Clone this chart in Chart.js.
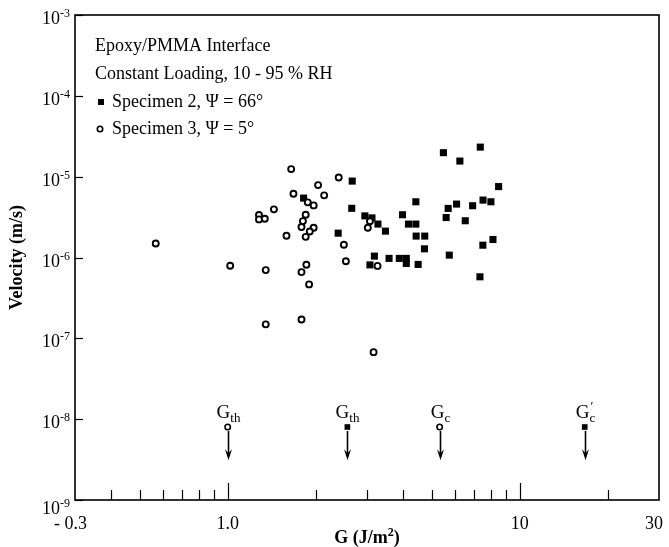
<!DOCTYPE html>
<html>
<head>
<meta charset="utf-8">
<script src="https://cdn.jsdelivr.net/npm/chart.js@4.4.1/dist/chart.umd.min.js"></script>
<style>
  html, body { margin: 0; padding: 0; background: #fff; }
  canvas { display: block; }
</style>
</head>
<body>
<canvas id="velocityChart" width="669" height="547"></canvas>
<script>
// Specimen 2, filled squares (G in J/m2, velocity in m/s)
const spec2G = [7.33, 5.48, 6.24, 2.67, 8.47, 1.82, 2.66, 4.41, 5.69, 6.08, 6.90, 7.49, 7.97, 5.60, 6.51, 2.95, 3.12, 3.27, 3.47, 3.97, 4.16, 4.41, 2.39, 4.42, 4.73, 8.10, 7.48, 4.72, 3.18, 3.07, 3.57, 3.87, 4.09, 4.09, 4.49, 5.74, 7.31];
const spec2V = [2.32e-5, 1.98e-5, 1.56e-5, 8.82e-6, 7.54e-6, 5.43e-6, 4.06e-6, 4.89e-6, 4.05e-6, 4.58e-6, 4.37e-6, 5.13e-6, 4.89e-6, 3.12e-6, 2.85e-6, 3.27e-6, 3.09e-6, 2.59e-6, 2.12e-6, 3.38e-6, 2.59e-6, 2.59e-6, 2.00e-6, 1.84e-6, 1.84e-6, 1.67e-6, 1.42e-6, 1.28e-6, 1.04e-6, 8.10e-7, 9.75e-7, 9.75e-7, 9.75e-7, 8.45e-7, 8.21e-7, 1.07e-6, 5.77e-7];

// Specimen 3, open circles
const spec3G = [0.567, 1.02, 1.35, 1.35, 1.28, 1.28, 1.34, 1.44, 1.65, 1.68, 1.59, 1.79, 1.81, 1.85, 1.88, 1.97, 1.97, 1.91, 1.85, 1.86, 1.79, 1.90, 1.79, 2.04, 2.14, 2.40, 2.50, 2.54, 3.07, 3.02, 3.26, 3.16];
const spec3V = [1.49e-6, 7.89e-7, 6.98e-7, 1.49e-7, 3.35e-6, 2.96e-6, 3.01e-6, 3.94e-6, 1.24e-5, 6.14e-6, 1.86e-6, 2.38e-6, 2.82e-6, 3.38e-6, 4.81e-6, 4.41e-6, 2.33e-6, 2.10e-6, 1.80e-6, 8.12e-7, 6.60e-7, 4.65e-7, 1.71e-7, 7.87e-6, 5.87e-6, 9.75e-6, 1.44e-6, 8.97e-7, 2.81e-6, 2.33e-6, 7.87e-7, 6.75e-8];

// threshold / critical G markers with arrows
const arrowG = [1.0, 2.57, 5.32, 16.7];
const arrowFilled = [false, true, false, true];
const arrowSub = ['th', 'th', 'c', 'c'];
const arrowPrime = [false, false, false, true];
const arrowV = 8e-9;
const arrowTipV = 3.1e-9;

const xTickValues = [0.3, 1, 10, 30];
const xTickText = ['- 0.3', '1.0', '10', '30'];
const xMajorTicks = [1, 10];
const xMinorTicks = [0.4, 0.5, 0.6, 0.7, 0.8, 0.9, 2, 3, 4, 5, 6, 7, 8, 9, 20];
const yTickExps = [-3, -4, -5, -6, -7, -8, -9];

const noteLines = ['Epoxy/PMMA Interface', 'Constant Loading, 10 - 95 % RH'];
const seriesNames = ['Specimen 2, \u03A8 = 66\u00B0', 'Specimen 3, \u03A8 = 5\u00B0'];

const serif = "'Liberation Serif', 'Times New Roman', serif";

function toPoints(xs, ys) {
  return xs.map((g, i) => ({ x: g, y: ys[i] }));
}

function drawSquare(ctx, cx, cy, s) {
  ctx.fillRect(cx - s / 2, cy - s / 2, s, s);
}

function drawRing(ctx, cx, cy, r) {
  ctx.beginPath();
  ctx.arc(cx, cy, r, 0, Math.PI * 2);
  ctx.fillStyle = '#fff';
  ctx.fill();
  ctx.stroke();
  ctx.fillStyle = '#000';
}

const decorations = {
  id: 'decorations',
  afterDatasetsDraw(chart) {
    const { ctx, chartArea: a, scales: { x, y } } = chart;
    ctx.save();
    ctx.strokeStyle = '#000';
    ctx.fillStyle = '#000';

    // frame
    ctx.lineWidth = 1.6;
    ctx.strokeRect(a.left, a.top, a.right - a.left, a.bottom - a.top);

    // y ticks + labels
    ctx.lineWidth = 1.2;
    ctx.textAlign = 'left';
    ctx.textBaseline = 'alphabetic';
    yTickExps.forEach(e => {
      const py = Math.round(y.getPixelForValue(Math.pow(10, e))) + 0.5;
      ctx.beginPath();
      ctx.moveTo(a.left, py);
      ctx.lineTo(a.left + 8, py);
      ctx.stroke();
      const drop = e === -9 ? 5 : 0;  // corner label sits a bit lower
      const sup = '-' + (-e);
      ctx.font = '12px ' + serif;
      const sw = ctx.measureText(sup).width;
      ctx.fillText(sup, 70 - sw, py + 1 + drop);
      ctx.font = '18px ' + serif;
      const bw = ctx.measureText('10').width;
      ctx.fillText('10', 70 - sw - bw, py + 8 + drop);
    });

    // x ticks (inward) + labels
    xMinorTicks.forEach(v => {
      const px = Math.round(x.getPixelForValue(v)) + 0.5;
      ctx.beginPath();
      ctx.moveTo(px, a.bottom);
      ctx.lineTo(px, a.bottom - 10);
      ctx.stroke();
    });
    xMajorTicks.forEach(v => {
      const px = Math.round(x.getPixelForValue(v)) + 0.5;
      ctx.beginPath();
      ctx.moveTo(px, a.bottom);
      ctx.lineTo(px, a.bottom - 17);
      ctx.stroke();
    });
    ctx.font = '18px ' + serif;
    xTickValues.forEach((v, i) => {
      let px = x.getPixelForValue(v);
      ctx.textAlign = 'center';
      if (i === 0) { ctx.textAlign = 'right'; px += 12; }
      if (i === xTickValues.length - 1) px -= 5;
      ctx.fillText(xTickText[i], px, a.bottom + 29);
    });

    // axis titles
    ctx.font = 'bold 18px ' + serif;
    ctx.save();
    ctx.translate(17, (a.top + a.bottom) / 2);
    ctx.rotate(-Math.PI / 2);
    ctx.textAlign = 'center';
    ctx.textBaseline = 'middle';
    ctx.fillText('Velocity (m/s)', 0, 0);
    ctx.restore();

    ctx.textAlign = 'left';
    ctx.textBaseline = 'alphabetic';
    const p1 = 'G (J/m', p2 = '2', p3 = ')';
    ctx.font = 'bold 18px ' + serif;
    const w1 = ctx.measureText(p1).width, w3 = ctx.measureText(p3).width;
    ctx.font = 'bold 12px ' + serif;
    const w2 = ctx.measureText(p2).width;
    let tx = (a.left + a.right) / 2 - (w1 + w2 + w3) / 2;
    const ty = 543;
    ctx.font = 'bold 18px ' + serif;
    ctx.fillText(p1, tx, ty);
    ctx.font = 'bold 12px ' + serif;
    ctx.fillText(p2, tx + w1, ty - 7);
    ctx.font = 'bold 18px ' + serif;
    ctx.fillText(p3, tx + w1 + w2, ty);

    // notes and series key
    ctx.font = '18px ' + serif;
    noteLines.forEach((t, i) => ctx.fillText(t, 95, 51 + i * 28));
    seriesNames.forEach((t, i) => ctx.fillText(t, 112, 107 + i * 27));
    drawSquare(ctx, 101, 102, 6);
    ctx.lineWidth = 1.6;
    drawRing(ctx, 100, 129, 2.7);

    // arrows with G labels
    const my = y.getPixelForValue(arrowV);
    const tip = y.getPixelForValue(arrowTipV);
    arrowG.forEach((g, i) => {
      const px = Math.round(x.getPixelForValue(g)) + 0.5;
      ctx.lineWidth = 1.6;
      ctx.beginPath();
      ctx.moveTo(px, my + 4);
      ctx.lineTo(px, tip - 6);
      ctx.stroke();
      ctx.beginPath();
      ctx.moveTo(px - 3.5, tip - 11);
      ctx.lineTo(px, tip);
      ctx.lineTo(px + 3.5, tip - 11);
      ctx.lineTo(px, tip - 7);
      ctx.closePath();
      ctx.fill();

      ctx.font = '19px ' + serif;
      const gw = ctx.measureText('G').width;
      ctx.font = '13px ' + serif;
      const sw = ctx.measureText(arrowSub[i]).width;
      const lx = px - (gw + sw) / 2;
      const ly = my - 9;
      ctx.font = '19px ' + serif;
      ctx.fillText('G', lx, ly);
      ctx.font = '13px ' + serif;
      ctx.fillText(arrowSub[i], lx + gw, ly + 4);
      if (arrowPrime[i]) ctx.fillText('\u2032', lx + gw + 1, ly - 8);
    });
    ctx.restore();
  }
};

const openArrowG = arrowG.filter((g, i) => !arrowFilled[i]);
const filledArrowG = arrowG.filter((g, i) => arrowFilled[i]);

new Chart(document.getElementById('velocityChart'), {
  type: 'scatter',
  data: {
    datasets: [
      {
        label: seriesNames[1],
        data: toPoints(spec3G, spec3V),
        pointStyle: 'circle',
        pointRadius: 3,
        backgroundColor: '#fff',
        borderColor: '#000',
        borderWidth: 1.9,
        order: 0
      },
      {
        label: seriesNames[0],
        data: toPoints(spec2G, spec2V),
        pointStyle: 'rect',
        pointRadius: 5,
        backgroundColor: '#000',
        borderColor: '#000',
        borderWidth: 0,
        order: 1
      },
      {
        label: 'open markers',
        data: toPoints(openArrowG, openArrowG.map(() => arrowV)),
        pointStyle: 'circle',
        pointRadius: 2.7,
        backgroundColor: '#fff',
        borderColor: '#000',
        borderWidth: 1.6,
        order: 0
      },
      {
        label: 'filled markers',
        data: toPoints(filledArrowG, filledArrowG.map(() => arrowV)),
        pointStyle: 'rect',
        pointRadius: 4,
        backgroundColor: '#000',
        borderWidth: 0,
        order: 1
      }
    ]
  },
  options: {
    responsive: false,
    animation: false,
    layout: { padding: { top: 15, right: 10, left: 0, bottom: 0 } },
    plugins: { legend: { display: false }, tooltip: { enabled: false } },
    scales: {
      x: {
        type: 'logarithmic',
        min: 0.3,
        max: 30,
        ticks: { display: false },
        grid: { display: false },
        border: { display: false },
        afterFit: s => { s.height = 47; }
      },
      y: {
        type: 'logarithmic',
        min: 1e-9,
        max: 1e-3,
        ticks: { display: false },
        grid: { display: false },
        border: { display: false },
        afterFit: s => { s.width = 75; }
      }
    }
  },
  plugins: [decorations]
});
</script>
</body>
</html>
